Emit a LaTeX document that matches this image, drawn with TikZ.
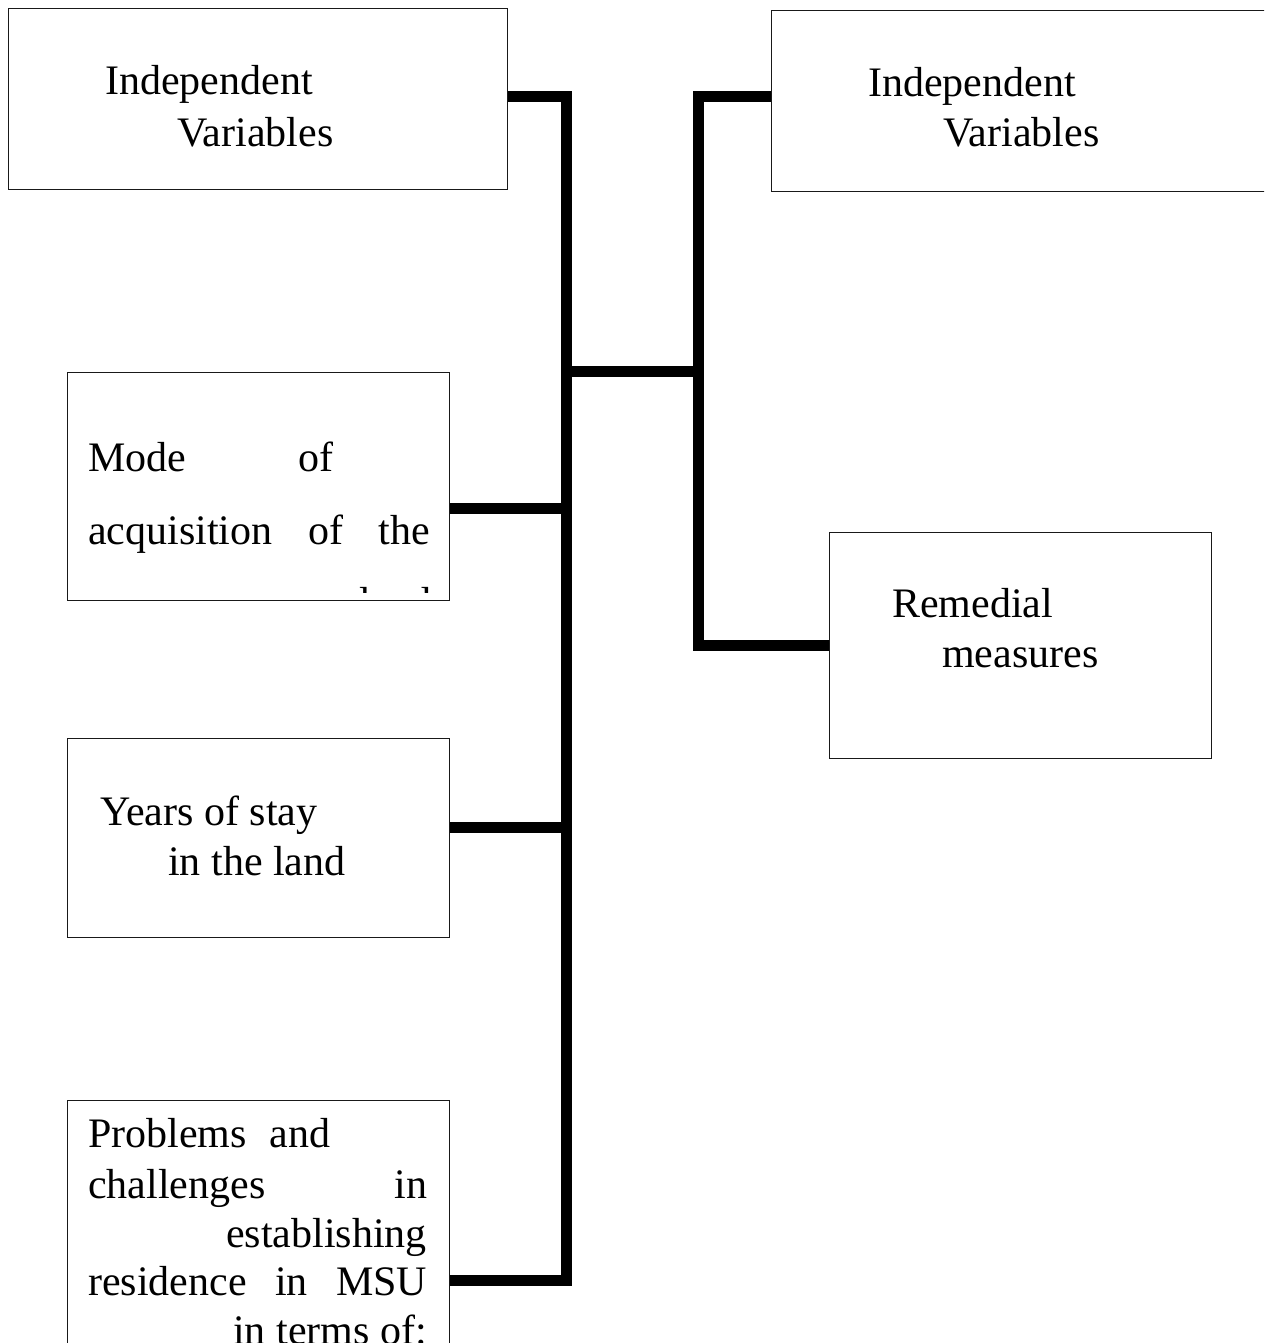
\documentclass[tikz,border=0pt]{standalone}
\usepackage{fontspec}
\setmainfont{Liberation Serif}
\begin{document}
\begin{tikzpicture}[x=1pt,y=-1pt,
  box/.style={draw=black!90, line width=1.2pt, rectangle, anchor=north west, inner sep=0pt, fill=none},
  conn/.style={line width=11pt, line join=miter, line cap=butt},
  txt/.style={inner sep=0pt, font=\fontsize{42}{50}\selectfont}]
\useasboundingbox (0,0) rectangle (1264,1343);
\begin{scope}
\clip (0,0) rectangle (1264,1343);
% boxes
\node[box, minimum width=499pt, minimum height=181pt] (b1) at (8,8) {};
\node[box, minimum width=500pt, minimum height=181pt] (b2) at (771,10) {};
\node[box, minimum width=382pt, minimum height=228pt] (b3) at (67,372) {};
\node[box, minimum width=382pt, minimum height=199pt] (b4) at (67,738) {};
\node[box, minimum width=382pt, minimum height=260pt] (b5) at (67,1100) {};
\node[box, minimum width=382pt, minimum height=226pt] (b6) at (829,532) {};
\end{scope}
% texts
\node[txt, anchor=base west] (t1a) at (105,95) {Independent};
\node[txt, anchor=base west] (t1b) at (177,147) {Variables};
\node[txt, anchor=base west] (t2a) at (868,97) {Independent};
\node[txt, anchor=base west] (t2b) at (943,147) {Variables};
\node[txt, anchor=base west] (t3a) at (88,471) {\hbox to 245pt{Mode\hfill of}};
\node[txt, anchor=base west] (t3b) at (88,544) {\hbox to 342pt{acquisition\hfill of\hfill the}};
\begin{scope}
\clip (67,372) rectangle (449,592);
\node[txt, anchor=base east] (t3c) at (432,616) {land};
\end{scope}
\node[txt, anchor=base west] (t4a) at (100,825) {Years of stay};
\node[txt, anchor=base west] (t4b) at (168,875) {in the land};
\node[txt, anchor=base west] (t6a) at (892,617) {Remedial};
\node[txt, anchor=base west] (t6b) at (942,667) {measures};
\node[txt, anchor=base west] (t5a) at (88,1147) {\hbox to 242pt{Problems\hfill and}};
\node[txt, anchor=base west] (t5b) at (88,1198) {\hbox to 339pt{challenges\hfill in}};
\node[txt, anchor=base east] (t5c) at (427,1247) {establishing};
\node[txt, anchor=base west] (t5d) at (88,1295) {\hbox to 339pt{residence\hfill in\hfill MSU}};
\begin{scope}
\clip (0,0) rectangle (1264,1343);
\node[txt, anchor=base east] (t5e) at (427,1344) {in terms of:};
\end{scope}
% connectors
\coordinate (tx) at (566,0);
\coordinate (rx) at (698,0);
\coordinate (y1) at (0,97);
\coordinate (y3) at (0,508);
\coordinate (y4) at (0,827);
\coordinate (y5) at (0,1280);
\coordinate (yh) at (0,371);
\coordinate (y6) at (0,645);
\draw[conn] (b1.east |- y1) -- (tx |- y1) -- (tx |- y5) -- (b5.east |- y5);
\draw[conn] (b3.east |- y3) -- (tx |- y3);
\draw[conn] (b4.east |- y4) -- (tx |- y4);
\draw[conn] (tx |- yh) -- (rx |- yh);
\draw[conn] (b2.west |- y1) -- (rx |- y1) -- (rx |- y6) -- (b6.west |- y6);
\end{tikzpicture}
\end{document}
